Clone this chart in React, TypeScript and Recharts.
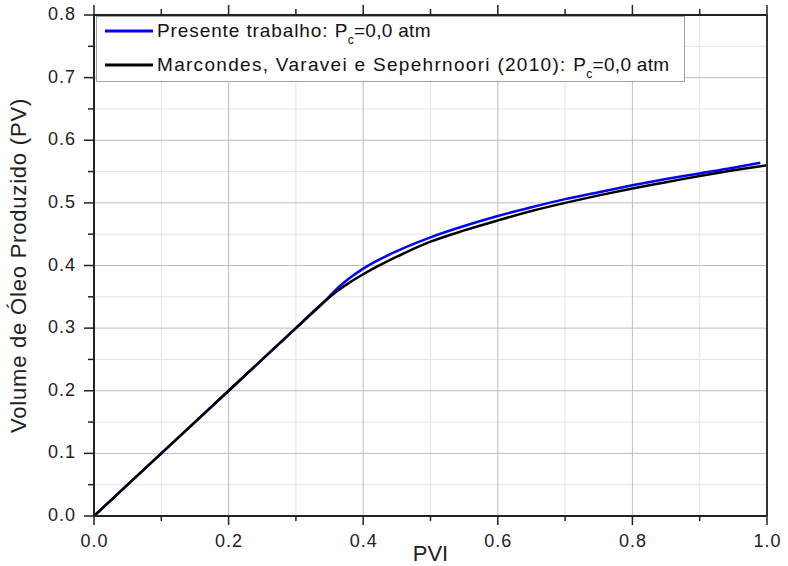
import React from 'react';
import { CartesianGrid, Legend, Line, LineChart, XAxis, YAxis } from 'recharts';

// PVI values and produced oil (PV)
const pviPresente = [0, 0.1, 0.2, 0.3, 0.345, 0.36, 0.38, 0.4, 0.45, 0.5, 0.55, 0.6, 0.65, 0.7, 0.75, 0.8, 0.85, 0.9, 0.95, 0.99];
const oleoPresente = [0, 0.1, 0.2, 0.3, 0.345, 0.362, 0.38, 0.395, 0.423, 0.445, 0.463, 0.479, 0.493, 0.506, 0.517, 0.528, 0.538, 0.547, 0.556, 0.564];

const pviMarcondes = [0, 0.1, 0.2, 0.3, 0.345, 0.36, 0.38, 0.4, 0.45, 0.5, 0.55, 0.6, 0.65, 0.7, 0.75, 0.8, 0.85, 0.9, 0.95, 1.0];
const oleoMarcondes = [0, 0.1, 0.2, 0.3, 0.345, 0.358, 0.373, 0.386, 0.414, 0.438, 0.456, 0.472, 0.487, 0.5, 0.512, 0.523, 0.533, 0.543, 0.552, 0.56];

const xTicks = [0, 0.1, 0.2, 0.3, 0.4, 0.5, 0.6, 0.7, 0.8, 0.9, 1.0];
const yTicks = [0, 0.05, 0.1, 0.15, 0.2, 0.25, 0.3, 0.35, 0.4, 0.45, 0.5, 0.55, 0.6, 0.65, 0.7, 0.75, 0.8];
const xMajorGrid = [0.2, 0.4, 0.6, 0.8];
const xMinorGrid = [0.1, 0.3, 0.5, 0.7, 0.9];
const yMajorGrid = [0.1, 0.2, 0.3, 0.4, 0.5, 0.6, 0.7];
const yMinorGrid = [0.05, 0.15, 0.25, 0.35, 0.45, 0.55, 0.65, 0.75];

const legendNames = ['Presente trabalho: ', 'Marcondes, Varavei e Sepehrnoori (2010): '];
const legendColors = ['#0000ff', '#000000'];

const presente = pviPresente.map((x, i) => ({ x, y: oleoPresente[i] }));
const marcondes = pviMarcondes.map((x, i) => ({ x, y: oleoMarcondes[i] }));

const AXIS = '#222';

const BottomTick = (props: any) => {
  const { x, y, payload } = props;
  const major = Math.round(payload.value * 10) % 2 === 0;
  return (
    <g>
      <line x1={x} x2={x} y1={y} y2={y + (major ? 9 : 5)} stroke={AXIS} strokeWidth={1.5} />
      {major && (
        <text x={x + 0.5} y={y + 31} textAnchor='middle' fontSize={18} letterSpacing={1} fill={AXIS}>
          {payload.value.toFixed(1)}
        </text>
      )}
    </g>
  );
};

const TopTick = (props: any) => {
  const { x, y, payload } = props;
  const major = Math.round(payload.value * 10) % 2 === 0;
  return <line x1={x} x2={x} y1={y} y2={y - (major ? 10 : 6)} stroke={AXIS} strokeWidth={1.5} />;
};

const LeftTick = (props: any) => {
  const { x, y, payload } = props;
  const major = Math.round(payload.value * 20) % 2 === 0;
  return (
    <g>
      <line x1={x} x2={x - (major ? 10 : 6)} y1={y} y2={y} stroke={AXIS} strokeWidth={1.5} />
      {major && (
        <text x={x - 18} y={y + 5} textAnchor='end' fontSize={18} letterSpacing={1} fill={AXIS}>
          {payload.value.toFixed(1)}
        </text>
      )}
    </g>
  );
};

const renderLegend = () => (
  <div
    style={{
      position: 'relative',
      boxSizing: 'border-box',
      width: 589,
      height: 66,
      border: '1px solid #a0a0a0',
      background: '#fff',
      fontSize: 19,
      color: '#111'
    }}
  >
    {legendNames.map((name, i) => (
      <div
        key={name}
        style={{
          position: 'absolute',
          left: 0,
          top: i === 0 ? 1 : 35,
          height: 26,
          display: 'flex',
          alignItems: 'center',
          whiteSpace: 'nowrap'
        }}
      >
        <svg width={48} height={4} style={{ marginLeft: 8, marginRight: 4 }}>
          <line x1={0} x2={48} y1={2} y2={2} stroke={legendColors[i]} strokeWidth={3} />
        </svg>
        <span style={{ whiteSpace: 'pre' }}>
          <span style={{ letterSpacing: i === 0 ? 0.9 : 1.3 }}>{name}</span>
          <span style={{ letterSpacing: 0.3 }}>
            P<span style={{ fontSize: 12, position: 'relative', top: 7 }}>c</span>=0,0 atm
          </span>
        </span>
      </div>
    ))}
  </div>
);

export default function App() {
  return (
    <div
      style={{
        position: 'absolute',
        left: 0,
        top: 0,
        background: '#fff',
        fontFamily: '"Liberation Sans", Arial, sans-serif'
      }}
    >
      <LineChart width={788} height={566} margin={{ top: 0, right: 20, bottom: 0, left: 0 }}>
        <CartesianGrid stroke='#e4e4e4' horizontalValues={yMinorGrid} verticalValues={xMinorGrid} />
        <CartesianGrid stroke='#bdbdbd' horizontalValues={yMajorGrid} verticalValues={xMajorGrid} />
        <XAxis
          dataKey='x'
          type='number'
          domain={[0, 1]}
          ticks={xTicks}
          interval={0}
          height={50}
          tickSize={0}
          tickMargin={0}
          tick={<BottomTick />}
          axisLine={{ stroke: AXIS, strokeWidth: 2 }}
          allowDataOverflow
          label={{ value: 'PVI', position: 'insideBottom', offset: 5, fontSize: 22, fill: AXIS }}
        />
        <XAxis
          xAxisId='top'
          orientation='top'
          dataKey='x'
          type='number'
          domain={[0, 1]}
          ticks={xTicks}
          interval={0}
          height={15}
          tickSize={0}
          tickMargin={0}
          tick={<TopTick />}
          axisLine={{ stroke: AXIS, strokeWidth: 2 }}
          allowDataOverflow
        />
        <YAxis
          type='number'
          domain={[0, 0.8]}
          ticks={yTicks}
          interval={0}
          width={94}
          tickSize={0}
          tickMargin={0}
          tick={<LeftTick />}
          axisLine={{ stroke: AXIS, strokeWidth: 2 }}
          allowDataOverflow
          label={{
            value: 'Volume de Óleo Produzido (PV)',
            angle: -90,
            position: 'insideLeft',
            offset: 0,
            dx: 18,
            fontSize: 22,
            fill: AXIS,
            style: { textAnchor: 'middle', letterSpacing: 0.8 }
          }}
        />
        <YAxis
          yAxisId='right'
          orientation='right'
          type='number'
          domain={[0, 0.8]}
          width={1}
          tick={false}
          tickLine={false}
          axisLine={{ stroke: '#333', strokeWidth: 2 }}
        />
        <Legend
          layout='vertical'
          align='center'
          verticalAlign='middle'
          wrapperStyle={{ left: 96, top: 16, width: 589, height: 66 }}
          content={renderLegend}
        />
        <Line
          data={presente}
          dataKey='y'
          type='monotone'
          stroke='#0000ff'
          strokeWidth={2.5}
          dot={false}
          isAnimationActive={false}
        />
        <Line
          data={marcondes}
          dataKey='y'
          type='monotone'
          stroke='#000000'
          strokeWidth={2.5}
          dot={false}
          isAnimationActive={false}
        />
      </LineChart>
    </div>
  );
}
